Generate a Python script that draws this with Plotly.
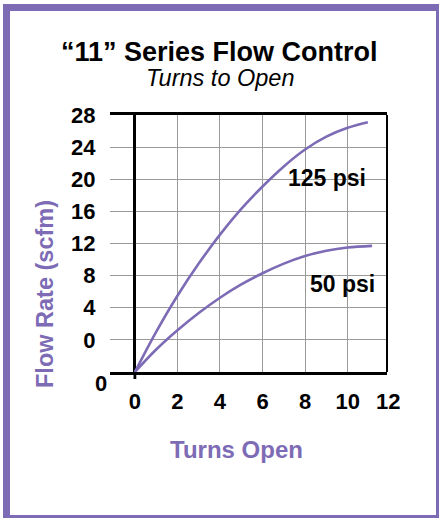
import plotly.graph_objects as go

# ---- data (y in plotted units: bottom axis line = 0) ----
turns_125 = [0, 1, 2, 3, 4, 5, 6, 7, 8, 9, 10, 10.95]
flow_125 = [0, 5.0, 9.5, 13.5, 17.1, 20.3, 23.1, 25.6, 27.7, 29.3, 30.4, 31.1]
turns_50 = [0, 1, 2, 3, 4, 5, 6, 7, 8, 9, 10, 11.15]
flow_50 = [0, 2.8, 5.2, 7.35, 9.25, 10.9, 12.3, 13.5, 14.45, 15.1, 15.5, 15.7]

x_tickvals = [0, 2, 4, 6, 8, 10]
x_ticktext = ["0", "2", "4", "6", "8", "10"]
y_tickvals = [4, 8, 12, 16, 20, 24, 28, 32]
y_ticktext = ["0", "4", "8", "12", "16", "20", "24", "28"]

PURPLE = "#7d6bb5"
FONT = "Liberation Sans"

W, H = 439, 518
L, R, T, B = 110, 52, 115, 146
PW, PH = W - L - R, H - T - B


def px(x):
    return (x - L) / PW


def py(y):
    return (H - B - y) / PH


fig = go.Figure()
fig.add_trace(go.Scatter(x=turns_125, y=flow_125, mode="lines",
                         line=dict(color=PURPLE, width=2.6, shape="spline", smoothing=1.0),
                         showlegend=False, hoverinfo="skip"))
fig.add_trace(go.Scatter(x=turns_50, y=flow_50, mode="lines",
                         line=dict(color=PURPLE, width=2.6, shape="spline", smoothing=1.0),
                         showlegend=False, hoverinfo="skip"))

tickfont = dict(family=FONT, size=22, color="black", weight="bold")

fig.update_layout(
    width=W, height=H,
    margin=dict(l=L, r=R, t=T, b=B, pad=0),
    paper_bgcolor="white", plot_bgcolor="white",
    xaxis=dict(range=[-1.17, 11.85], tickvals=x_tickvals, ticktext=x_ticktext,
               showgrid=True, gridcolor="#9a9a9a", gridwidth=1.4,
               zeroline=True, zerolinecolor="black", zerolinewidth=2.8,
               showline=True, mirror=True, linecolor="black", linewidth=2.5,
               ticks="outside", ticklen=0, ticklabelstandoff=8,
               tickfont=tickfont, fixedrange=True),
    yaxis=dict(range=[0, 32], tickvals=y_tickvals, ticktext=y_ticktext,
               showgrid=True, gridcolor="#9a9a9a", gridwidth=1.4,
               zeroline=False, showline=False,
               ticks="outside", ticklen=0, ticklabelstandoff=9,
               tickfont=tickfont, fixedrange=True),
)

# right edge of the grid box and small tick below origin
fig.add_shape(type="line", xref="paper", yref="paper", x0=1, x1=1, y0=0, y1=1,
              line=dict(color="black", width=2))
fig.add_shape(type="line", xref="x", yref="paper", x0=0, x1=0, y0=py(H - B + 7), y1=0,
              line=dict(color="black", width=2.8))

# purple frame
frame = [
    (3, 4, 10, 518),     # left
    (3, 4, 439, 11),     # top
    (436, 4, 439, 518),  # right
    (3, 515, 439, 518),  # bottom
]
for x0, y0, x1, y1 in frame:
    fig.add_shape(type="rect", xref="paper", yref="paper",
                  x0=px(x0), x1=px(x1), y0=py(y1), y1=py(y0),
                  line=dict(width=0), fillcolor=PURPLE, layer="above")

ann = []
ann.append(dict(text="“11” Series Flow Control", x=px(219.5), y=py(52.5),
                font=dict(family=FONT, size=27, color="black", weight="bold")))
ann.append(dict(text="<i>Turns to Open</i>", x=px(219.5), y=py(78),
                font=dict(family=FONT, size=23.5, color="black")))
ann.append(dict(text="Turns Open", x=px(236), y=py(449.5),
                font=dict(family=FONT, size=24, color=PURPLE, weight="bold")))
ann.append(dict(text="Flow Rate (scfm)", x=px(45), y=py(294), textangle=-90,
                font=dict(family=FONT, size=23.5, color=PURPLE, weight="bold")))
ann.append(dict(text="0", x=px(101), y=py(383),
                font=tickfont))
ann.append(dict(text="12", x=px(388), y=py(401),
                font=tickfont))
for a in ann:
    a.update(xref="paper", yref="paper", showarrow=False,
             xanchor="center", yanchor="middle")
    fig.add_annotation(**a)

fig.add_annotation(text="125 psi", x=9.01, y=24.2, xref="x", yref="y", showarrow=False,
                   xanchor="center", yanchor="middle",
                   font=dict(family=FONT, size=23, color="black", weight="bold"))
fig.add_annotation(text="50 psi", x=9.77, y=11.0, xref="x", yref="y", showarrow=False,
                   xanchor="center", yanchor="middle",
                   font=dict(family=FONT, size=23, color="black", weight="bold"))

fig.write_html("out.html", config={"displayModeBar": False},
               post_script="document.body.style.margin='0';")
